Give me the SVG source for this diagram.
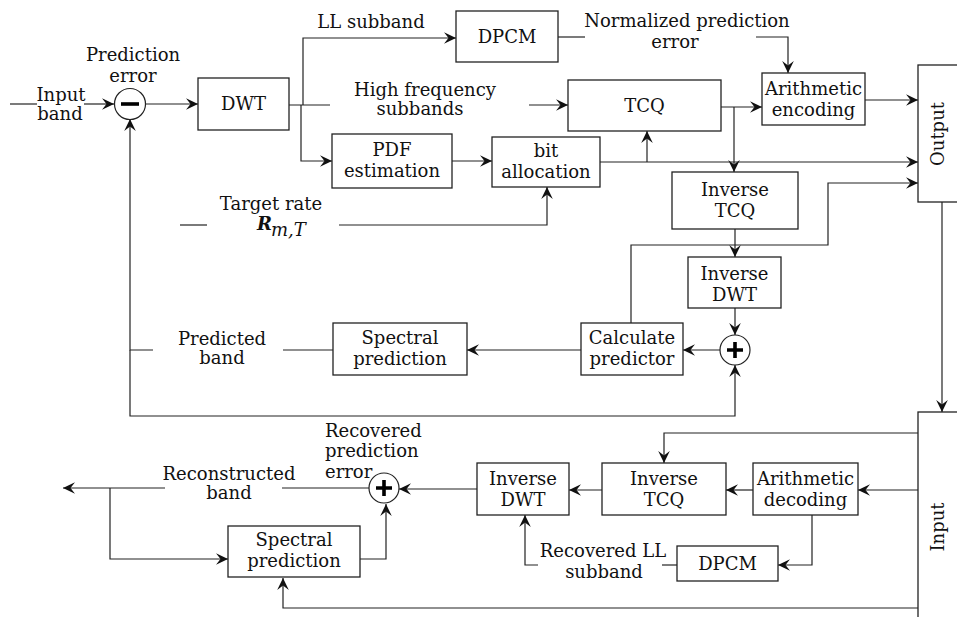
<svg xmlns="http://www.w3.org/2000/svg" width="957" height="617" viewBox="0 0 957 617">
<style>
.box{fill:#fff;stroke:#222;stroke-width:1.3}
.c{fill:none;stroke:#222;stroke-width:1.2}
.a{marker-end:url(#ah)}
text{font-family:"DejaVu Serif","Liberation Serif",serif;font-size:18px;fill:#111}
.m{text-anchor:middle}
.sign{stroke:#000;stroke-width:3.6;fill:none}
</style>
<defs>
<marker id="ah" markerWidth="14" markerHeight="12" viewBox="-13 -6 14 12" refX="0" refY="0" orient="auto" markerUnits="userSpaceOnUse">
<path d="M0,0 L-12,-5.8 L-7.5,0 L-12,5.8 Z" fill="#111"/>
</marker>
</defs>
<rect width="957" height="617" fill="#fff"/>

<g id="connectors">
<path class="c" d="M10,104 H37"/>
<path class="c a" d="M84,104 H114"/>
<path class="c a" d="M145,104 H198"/>
<path class="c" d="M289,105 H330"/>
<path class="c a" d="M529,105 H568"/>
<path class="c a" d="M303,105 V38 H456"/>
<path class="c a" d="M301,105 V161 H332"/>
<path class="c a" d="M452,161 H492"/>
<path class="c" d="M558,37 H585"/>
<path class="c a" d="M756,37 H788 V73"/>
<path class="c a" d="M721,107 H762"/>
<path class="c a" d="M734,107 V172"/>
<path class="c a" d="M865,100 H918"/>
<path class="c a" d="M600,162 H918"/>
<path class="c a" d="M647,162 V131"/>
<path class="c" d="M180,225 H207"/>
<path class="c a" d="M339,225 H547 V187"/>
<path class="c a" d="M735,229 V257"/>
<path class="c a" d="M631,323 V245 H828 V183 H918"/>
<path class="c a" d="M735,308 V335"/>
<path class="c a" d="M720,350 H683"/>
<path class="c a" d="M581,350 H467"/>
<path class="c" d="M333,350 H283"/>
<path class="c a" d="M153,350 H130 V119"/>
<path class="c a" d="M130,350 V416 H735 V365"/>
<path class="c a" d="M942,202 V412"/>
<path class="c a" d="M918,433 H664 V463"/>
<path class="c a" d="M918,490 H858"/>
<path class="c a" d="M753,490 H726"/>
<path class="c a" d="M602,490 H569"/>
<path class="c a" d="M477,489 H399"/>
<path class="c a" d="M812,515 V565 H778"/>
<path class="c" d="M677,565 H662"/>
<path class="c a" d="M538,565 H525 V515"/>
<path class="c" d="M369,488 H282"/>
<path class="c a" d="M165,488 H63"/>
<path class="c a" d="M110,488 V559 H228"/>
<path class="c a" d="M360,559 H386 V504"/>
<path class="c a" d="M918,608 H283 V578"/>
</g>

<g id="minus">
<circle cx="130" cy="104" r="15.5" fill="#fff" stroke="#222" stroke-width="1.2"/>
<path class="sign" d="M121,104 H139"/>
</g>
<g id="dwt"><rect class="box" x="198" y="78" width="91" height="52"/><text class="m" x="243.5" y="110">DWT</text></g>
<g id="dpcm"><rect class="box" x="456" y="11" width="102" height="51"/><text class="m" x="507" y="43">DPCM</text></g>
<g id="tcq"><rect class="box" x="568" y="80" width="153" height="51"/><text class="m" x="644.5" y="112">TCQ</text></g>
<g id="pdf"><rect class="box" x="332" y="134" width="120" height="54"/><text class="m" x="392" y="156">PDF</text><text class="m" x="392" y="177">estimation</text></g>
<g id="bitalloc"><rect class="box" x="492" y="137" width="108" height="50"/><text class="m" x="546" y="157">bit</text><text class="m" x="546" y="178">allocation</text></g>
<g id="arithenc"><rect class="box" x="762" y="73" width="103" height="52"/><text class="m" x="813.5" y="95">Arithmetic</text><text class="m" x="813.5" y="116">encoding</text></g>
<g id="output"><rect class="box" x="918" y="65" width="60" height="137"/><text class="m" transform="translate(944,134) rotate(-90)">Output</text></g>
<g id="invtcq1"><rect class="box" x="672" y="172" width="126" height="57"/><text class="m" x="735" y="196">Inverse</text><text class="m" x="735" y="217">TCQ</text></g>
<g id="invdwt1"><rect class="box" x="688" y="257" width="93" height="51"/><text class="m" x="734.5" y="280">Inverse</text><text class="m" x="734.5" y="301">DWT</text></g>
<g id="plus1">
<circle cx="735" cy="350" r="15" fill="#fff" stroke="#222" stroke-width="1.2"/>
<path class="sign" d="M727,350 H743 M735,342 V358"/>
</g>
<g id="calcpred"><rect class="box" x="581" y="323" width="102" height="52"/><text class="m" x="632" y="344">Calculate</text><text class="m" x="632" y="365">predictor</text></g>
<g id="specpred1"><rect class="box" x="333" y="323" width="134" height="52"/><text class="m" x="400" y="344">Spectral</text><text class="m" x="400" y="365">prediction</text></g>

<g id="input"><rect class="box" x="918" y="412" width="60" height="220"/><text class="m" transform="translate(944,527) rotate(-90)">Input</text></g>
<g id="arithdec"><rect class="box" x="753" y="463" width="105" height="52"/><text class="m" x="805.5" y="485">Arithmetic</text><text class="m" x="805.5" y="506">decoding</text></g>
<g id="invtcq2"><rect class="box" x="602" y="463" width="124" height="52"/><text class="m" x="664" y="485">Inverse</text><text class="m" x="664" y="506">TCQ</text></g>
<g id="invdwt2"><rect class="box" x="477" y="463" width="92" height="52"/><text class="m" x="523" y="485">Inverse</text><text class="m" x="523" y="506">DWT</text></g>
<g id="dpcm2"><rect class="box" x="677" y="546" width="101" height="35"/><text class="m" x="727.5" y="570">DPCM</text></g>
<g id="plus2">
<circle cx="384" cy="488" r="15" fill="#fff" stroke="#222" stroke-width="1.2"/>
<path class="sign" d="M376,488 H392 M384,480 V496"/>
</g>
<g id="specpred2"><rect class="box" x="228" y="526" width="132" height="51"/><text class="m" x="294" y="546">Spectral</text><text class="m" x="294" y="567">prediction</text></g>

<g id="labels">
<text class="m" x="133" y="61">Prediction</text>
<text class="m" x="133" y="82">error</text>
<text class="m" x="61" y="101">Input</text>
<text class="m" x="60" y="120">band</text>
<text class="m" x="371" y="28">LL subband</text>
<text class="m" x="687" y="27">Normalized prediction</text>
<text class="m" x="675" y="48">error</text>
<text class="m" x="425" y="96">High frequency</text>
<text class="m" x="420" y="115">subbands</text>
<text class="m" x="271" y="210">Target rate</text>
<text x="257" y="230" font-style="italic" font-weight="bold" font-size="18">R</text>
<text x="271" y="236" font-style="italic" font-size="10">m,T</text>
<text class="m" x="222" y="345">Predicted</text>
<text class="m" x="222" y="364">band</text>
<text x="325" y="437">Recovered</text>
<text x="325" y="457">prediction</text>
<text x="325" y="478">error</text>
<text class="m" x="229" y="480">Reconstructed</text>
<text class="m" x="229" y="499">band</text>
<text class="m" x="603" y="557">Recovered LL</text>
<text class="m" x="604" y="578">subband</text>
</g>
</svg>
